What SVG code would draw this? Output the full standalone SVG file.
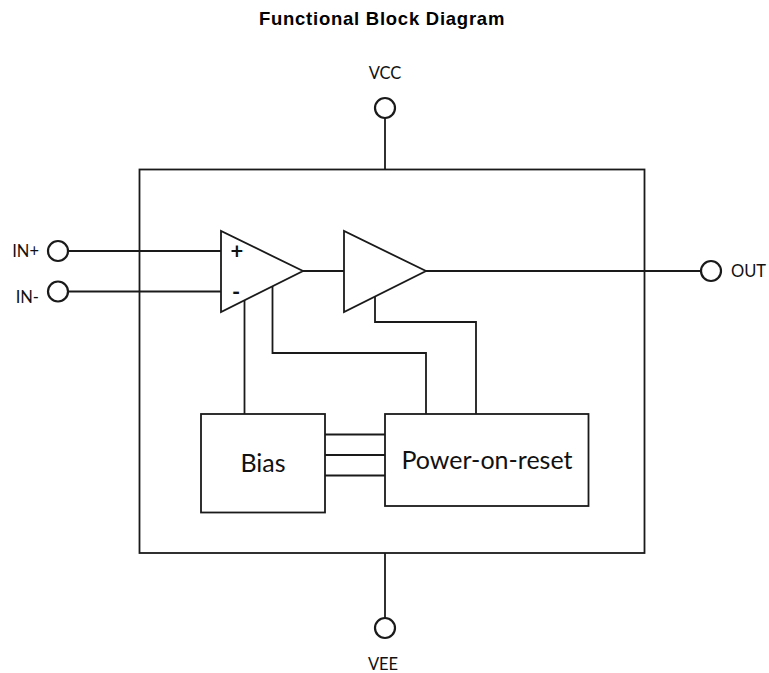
<svg xmlns="http://www.w3.org/2000/svg" width="769" height="673" viewBox="0 0 769 673">
<style>
.s{fill:none;stroke:#1a1a1a;stroke-width:1.8}
.p{fill:#fff;stroke:#1a1a1a;stroke-width:2.2}
.t{font-family:Lato,Carlito,"Liberation Sans",sans-serif;fill:#111}
.l{font-size:16.500px}
.b{font-size:25px}
.m{font-size:22px;font-weight:bold}
</style>
<rect width="769" height="673" fill="#fff"/>
<text x="382" y="24.500" text-anchor="middle" font-family="'Liberation Sans',Arial,sans-serif" font-weight="bold" font-size="18.500" letter-spacing="0.75" fill="#000">Functional Block Diagram</text>
<g id="connectors" class="s">
<path d="M385 118V169"/>
<path d="M385 553V618"/>
<path d="M68 251H221"/>
<path d="M68 291.500H221"/>
<path d="M303 271H344"/>
<path d="M426 271H701"/>
<path d="M244.500 300V414"/>
<path d="M272.500 286V353H426V414"/>
<path d="M375 296V322H476V414"/>
<path d="M325 434.500H385"/>
<path d="M325 455H385"/>
<path d="M325 475.500H385"/>
</g>
<g id="chip"><rect x="139.500" y="169.500" width="505" height="383.500" class="s"/></g>
<g id="comparator"><path d="M221 231V312L303 271Z" class="s"/>
<text x="237" y="259" text-anchor="middle" class="t m">+</text>
<text x="236" y="300" text-anchor="middle" class="t m">-</text></g>
<g id="buffer"><path d="M344 231V312L426 271Z" class="s"/></g>
<g id="bias"><rect x="201" y="414" width="124" height="98.500" class="s"/>
<text x="263" y="472" text-anchor="middle" class="t b">Bias</text></g>
<g id="por"><rect x="385" y="414" width="203.500" height="92" class="s"/>
<text x="487" y="469" text-anchor="middle" class="t b">Power-on-reset</text></g>
<g id="pin-vcc"><circle cx="385" cy="108" r="10" class="p"/><text x="385" y="78.500" text-anchor="middle" class="t l">VCC</text></g>
<g id="pin-vee"><circle cx="385" cy="628" r="10" class="p"/><text x="383" y="669.500" text-anchor="middle" class="t l">VEE</text></g>
<g id="pin-in-plus"><circle cx="58" cy="251" r="10" class="p"/><text x="39" y="257" text-anchor="end" class="t l">IN+</text></g>
<g id="pin-in-minus"><circle cx="58" cy="291.500" r="10" class="p"/><text x="39" y="303" text-anchor="end" class="t l">IN-</text></g>
<g id="pin-out"><circle cx="711" cy="271" r="10" class="p"/><text x="731" y="277" class="t l">OUT</text></g>
</svg>
